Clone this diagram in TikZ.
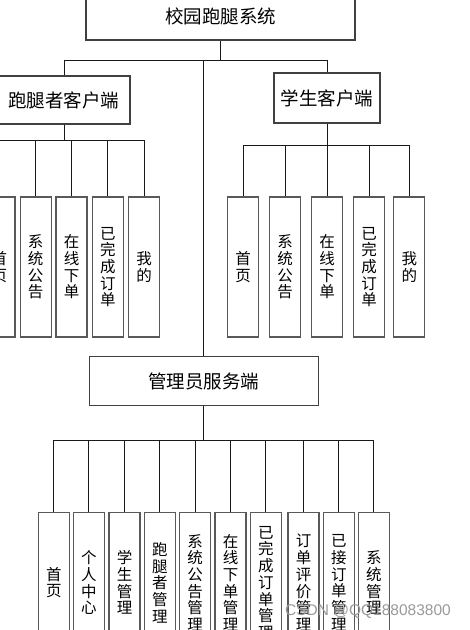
\documentclass[tikz,border=0pt]{standalone}
\usepackage{fontspec}
\newfontfamily\cjk{Noto Sans CJK SC}
\newfontfamily\wmfont{Liberation Sans}
\tikzset{
  box/.style={draw=black!75, line width=1.1pt, fill=white, inner sep=0pt,
    font=\cjk\fontsize{18.5}{21}\selectfont},
  leafbox/.style={draw=black!65, line width=1.3pt, fill=white, inner sep=0pt,
    minimum width=31pt, minimum height=140pt, align=center,
    font=\cjk\fontsize{15.5}{16.7}\selectfont},
  conn/.style={draw=black!90, line width=0.9pt}
}
\begin{document}
\begin{tikzpicture}[x=1pt,y=-1pt]
\useasboundingbox (0,0) rectangle (470,630);
\clip (0,0) rectangle (470,630);
% main boxes
\node[box, minimum width=269pt, minimum height=48pt] (T) at (220.5,16) {校园跑腿系统};
\node[box, minimum width=132pt, minimum height=48pt] (L) at (64,100) {跑腿者客户端};
\node[box, minimum width=106pt, minimum height=50pt] (R) at (327,98) {学生客户端};
\node[box, minimum width=229pt, minimum height=49pt] (A) at (203.7,381) {管理员服务端};
\coordinate (bus0) at (0,60);
\coordinate (busL) at (0,140);
\coordinate (busR) at (0,145);
\coordinate (busA) at (0,440);
% top level connectors
\draw[conn] (T.south) -- (T.south |- bus0);
\draw[conn] (L.north) -- (L.north |- bus0) -- (R.north |- bus0) -- (R.north);
\draw[conn] (A.north) -- (A.north |- bus0);
% left group
\foreach \x/\t [count=\i] in {-0.6/首\\页, 35.7/系\\统\\公\\告, 71.5/在\\线\\下\\单, 107.9/已\\完\\成\\订\\单, 144.2/我\\的}{
  \node[leafbox] (l\i) at (\x,267) {\t};
  \draw[conn] (L.south) -- (L.south |- busL) -| (l\i.north);
}
% right group
\foreach \x/\t [count=\i] in {243.2/首\\页, 285.2/系\\统\\公\\告, 327.2/在\\线\\下\\单, 369.2/已\\完\\成\\订\\单, 409.3/我\\的}{
  \node[leafbox] (r\i) at (\x,267) {\t};
  \draw[conn] (R.south) -- (R.south |- busR) -| (r\i.north);
}
% admin group
\foreach \x/\t [count=\i] in {53.8/首\\页, 88.8/个\\人\\中\\心, 124.5/学\\生\\管\\理, 159.8/跑\\腿\\者\\管\\理, 195.2/系\\统\\公\\告\\管\\理, 230.5/在\\线\\下\\单\\管\\理, 265.8/已\\完\\成\\订\\单\\管\\理, 303.5/订\\单\\评\\价\\管\\理, 338.8/已\\接\\订\\单\\管\\理, 373.8/系\\统\\管\\理}{
  \node[leafbox] (a\i) at (\x,582.7) {\t};
  \draw[conn] (A.south) -- (A.south |- busA) -| (a\i.north);
}
% watermark
\node[text=black!40, font=\wmfont\fontsize{15.5}{17}\selectfont, inner sep=0pt] (wm) at (368,611) {CSDN @QQ188083800};
\end{tikzpicture}
\end{document}
